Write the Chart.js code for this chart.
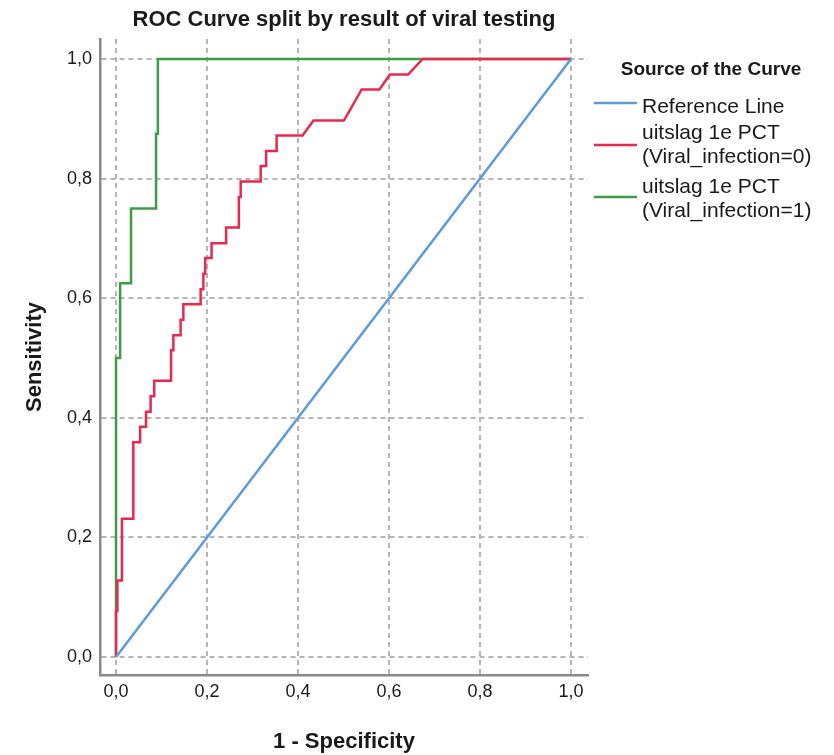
<!DOCTYPE html>
<html>
<head>
<meta charset="utf-8">
<script src="https://cdn.jsdelivr.net/npm/chart.js@4.4.1/dist/chart.umd.min.js"></script>
<style>
  html, body { margin: 0; padding: 0; background: #fff; }
  #wrap { width: 834px; height: 755px; position: relative; }
</style>
</head>
<body>
<div id="wrap"><canvas id="rocChart"></canvas></div>
<script>
// ROC data -------------------------------------------------------------

//---reference diagonal
var refFpr = [0, 1];
var refTpr = [0, 1];

//---uitslag 1e PCT (Viral_infection=0)
var v0Fpr = [0, 0, 0.003, 0.003, 0.013, 0.013, 0.038, 0.038, 0.053, 0.053, 0.066, 0.066, 0.076, 0.076,
             0.084, 0.084, 0.121, 0.121, 0.126, 0.126, 0.142, 0.142, 0.148, 0.148, 0.186, 0.186,
             0.192, 0.192, 0.196, 0.196, 0.210, 0.210, 0.242, 0.242, 0.270, 0.270, 0.274, 0.274,
             0.318, 0.318, 0.330, 0.330, 0.353, 0.353, 0.410, 0.434, 0.501, 0.540, 0.579, 0.602,
             0.642, 0.674, 1];
var v0Tpr = [0, 0.077, 0.077, 0.128, 0.128, 0.231, 0.231, 0.359, 0.359, 0.385, 0.385, 0.410, 0.410, 0.436,
             0.436, 0.462, 0.462, 0.513, 0.513, 0.538, 0.538, 0.564, 0.564, 0.590, 0.590, 0.615,
             0.615, 0.641, 0.641, 0.667, 0.667, 0.692, 0.692, 0.718, 0.718, 0.769, 0.769, 0.795,
             0.795, 0.821, 0.821, 0.846, 0.846, 0.872, 0.872, 0.897, 0.897, 0.949, 0.949, 0.974,
             0.974, 1, 1];

//---uitslag 1e PCT (Viral_infection=1)
var v1Fpr = [0, 0, 0.009, 0.009, 0.033, 0.033, 0.088, 0.088, 0.092, 0.092, 1];
var v1Tpr = [0, 0.5, 0.5, 0.625, 0.625, 0.75, 0.75, 0.875, 0.875, 1, 1];

//---axes
var tickValues = [0, 0.2, 0.4, 0.6, 0.8, 1.0];
var xTickLabels = ['0,0', '0,2', '0,4', '0,6', '0,8', '1,0'];
var yTickLabels = ['0,0', '0,2', '0,4', '0,6', '0,8', '1,0'];

var seriesLabels = ['Reference Line', 'uitslag 1e PCT\n(Viral_infection=0)', 'uitslag 1e PCT\n(Viral_infection=1)'];
var seriesColors = ['#5c9bd6', '#e8284f', '#3e9c45'];

function toPoints(xs, ys) {
  return xs.map(function (x, i) { return { x: x, y: ys[i] }; });
}

// legend drawn on the canvas, SPSS style (multi-line labels)
var sideLegend = {
  id: 'sideLegend',
  afterDraw: function (chart) {
    var ctx = chart.ctx;
    var spots = [ { sample: 103, text: 107 }, { sample: 145, text: 133 }, { sample: 197, text: 187 } ];
    ctx.save();
    ctx.fillStyle = '#1a1a1a';
    ctx.font = 'bold 19px "Liberation Sans", Arial, sans-serif';
    ctx.textAlign = 'center';
    ctx.textBaseline = 'middle';
    ctx.fillText('Source of the Curve', 711, 70);

    ctx.font = '21px "Liberation Sans", Arial, sans-serif';
    ctx.textAlign = 'left';
    chart.data.datasets.forEach(function (ds, i) {
      var s = spots[i];
      ctx.strokeStyle = ds.borderColor;
      ctx.lineWidth = 2.5;
      ctx.beginPath();
      ctx.moveTo(594, s.sample);
      ctx.lineTo(637, s.sample);
      ctx.stroke();
      ds.label.split('\n').forEach(function (line, j) {
        ctx.fillText(line, 642, s.text + j * 24);
      });
    });
    ctx.restore();
  }
};

var ctx = document.getElementById('rocChart');

var data = {
  datasets: [{
    label: seriesLabels[0],
    data: toPoints(refFpr, refTpr),
    borderColor: seriesColors[0],
    borderWidth: 2.5
  }, {
    label: seriesLabels[1],
    data: toPoints(v0Fpr, v0Tpr),
    borderColor: seriesColors[1],
    borderWidth: 2.5
  }, {
    label: seriesLabels[2],
    data: toPoints(v1Fpr, v1Tpr),
    borderColor: seriesColors[2],
    borderWidth: 2.5
  }]
};

function fixedTicks(scale) {
  scale.ticks = tickValues.map(function (v) { return { value: v }; });
}

var options = {
  responsive: true,
  maintainAspectRatio: false,
  animation: false,
  showLine: true,
  elements: {
    point: { radius: 0, hoverRadius: 0 },
    line: { tension: 0, fill: false }
  },
  layout: { padding: { left: 0, right: 246, top: 0, bottom: 0 } },
  plugins: {
    legend: { display: false },
    tooltip: { enabled: false },
    title: {
      display: true,
      fullSize: false,
      text: 'ROC Curve split by result of viral testing',
      color: '#1a1a1a',
      font: { family: '"Liberation Sans", Arial, sans-serif', size: 22, weight: 'bold', lineHeight: 1.2 },
      padding: { top: 7, bottom: 5.6 }
    }
  },
  scales: {
    x: {
      type: 'linear',
      min: -0.0352,
      max: 1.0374,
      afterBuildTicks: fixedTicks,
      afterFit: function (scale) { scale.height = 80; },
      grid: { color: '#b5b5b5', lineWidth: 2, drawTicks: false },
      border: { display: true, color: '#8a8a8a', width: 2.5, dash: [5, 4] },
      ticks: {
        padding: 6,
        color: '#1a1a1a',
        font: { family: '"Liberation Sans", Arial, sans-serif', size: 18 },
        callback: function (v) { return xTickLabels[tickValues.indexOf(v)]; }
      },
      title: {
        display: true,
        text: '1 - Specificity',
        color: '#1a1a1a',
        font: { family: '"Liberation Sans", Arial, sans-serif', size: 22, weight: 'bold', lineHeight: 1.2 },
        padding: { top: 0, bottom: 0 }
      }
    },
    y: {
      type: 'linear',
      min: -0.0301,
      max: 1.0334,
      afterBuildTicks: fixedTicks,
      afterFit: function (scale) { scale.width = 100; },
      grid: { color: '#b5b5b5', lineWidth: 2, drawTicks: false },
      border: { display: true, color: '#8a8a8a', width: 2.5, dash: [5, 4] },
      ticks: {
        padding: 8,
        color: '#1a1a1a',
        font: { family: '"Liberation Sans", Arial, sans-serif', size: 18 },
        callback: function (v) { return yTickLabels[tickValues.indexOf(v)]; }
      },
      title: {
        display: true,
        text: 'Sensitivity',
        color: '#1a1a1a',
        font: { family: '"Liberation Sans", Arial, sans-serif', size: 22, weight: 'bold', lineHeight: 1.2 },
        padding: { top: 22, bottom: 0 }
      }
    }
  }
};

var rocChart = new Chart(ctx, {
  type: 'scatter',
  data: data,
  options: options,
  plugins: [sideLegend]
});
</script>
</body>
</html>
